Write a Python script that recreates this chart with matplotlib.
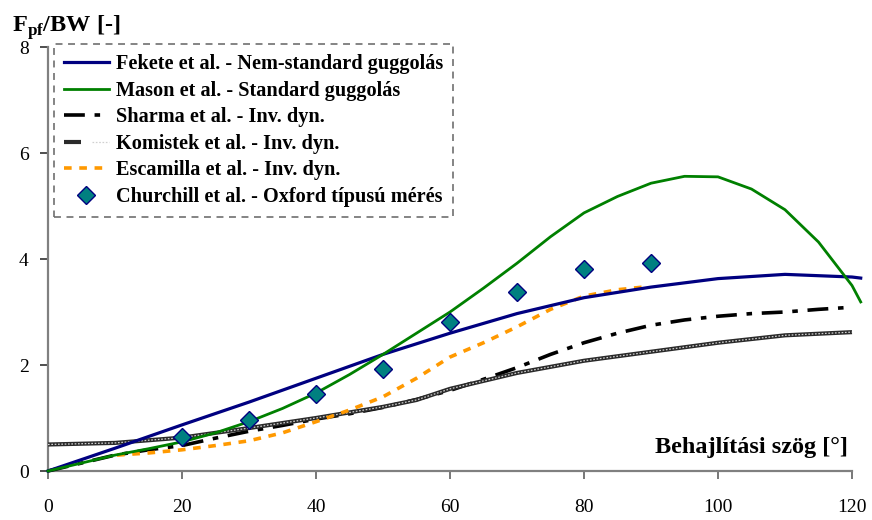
import matplotlib
matplotlib.use("Agg")
import matplotlib.pyplot as plt
from matplotlib.legend_handler import HandlerTuple

plt.rcParams['font.family'] = ['Liberation Serif', 'DejaVu Serif']
plt.rcParams['mathtext.fontset'] = 'custom'
plt.rcParams['mathtext.rm'] = 'Liberation Serif'
plt.rcParams['mathtext.bf'] = 'Liberation Serif:bold'
plt.rcParams['lines.scale_dashes'] = False

# Fekete et al. - non-standard squat
fekete_x = [0, 10, 20, 30, 40, 50, 60, 70, 80, 90, 100, 110, 120, 121.3]
fekete_y = [0, 0.43, 0.87, 1.30, 1.75, 2.20, 2.60, 2.97, 3.27, 3.47, 3.63, 3.71, 3.66, 3.64]

# Mason et al. - standard squat
mason_x = [0, 5, 10, 15, 20, 25, 30, 35, 40, 45, 50, 55, 60, 65, 70, 75, 80,
           85, 90, 95, 100, 105, 110, 115, 120, 121.3]
mason_y = [0, 0.15, 0.30, 0.42, 0.55, 0.72, 0.93, 1.18, 1.47, 1.82, 2.20, 2.60,
           3.00, 3.45, 3.92, 4.42, 4.87, 5.18, 5.43, 5.56, 5.55, 5.32, 4.93,
           4.32, 3.50, 3.19]

# Sharma et al. - inverse dynamics
sharma_x = [0, 5, 10, 15, 20, 25, 30, 35, 40, 45, 50, 55, 60, 65, 70, 75, 80,
            85, 90, 95, 100, 105, 110, 115, 120]
sharma_y = [0, 0.15, 0.30, 0.40, 0.48, 0.62, 0.75, 0.86, 0.98, 1.08, 1.20, 1.35,
            1.52, 1.73, 1.95, 2.20, 2.42, 2.60, 2.75, 2.85, 2.92, 2.97, 3.00,
            3.05, 3.09]

# Komistek et al. - inverse dynamics
komistek_x = [0, 10, 20, 30, 40, 50, 55, 60, 70, 80, 90, 100, 110, 120]
komistek_y = [0.50, 0.53, 0.63, 0.81, 1.00, 1.21, 1.34, 1.55, 1.85, 2.08, 2.25,
              2.42, 2.56, 2.62]

# Escamilla et al. - inverse dynamics
escamilla_x = [10.3, 15, 20, 25, 30, 35, 40, 45, 50, 55, 60, 65, 70, 75, 80,
               85, 88.8]
escamilla_y = [0.30, 0.34, 0.40, 0.48, 0.57, 0.72, 0.93, 1.15, 1.40, 1.75, 2.15,
               2.42, 2.72, 3.05, 3.30, 3.42, 3.47]

# Churchill et al. - Oxford-type measurement
churchill_x = [20, 30, 40, 50, 60, 70, 80, 90]
churchill_y = [0.64, 0.96, 1.45, 1.92, 2.82, 3.37, 3.82, 3.92]

labels = [
    "Fekete et al. - Nem-standard guggolás",
    "Mason et al. - Standard guggolás",
    "Sharma et al. - Inv. dyn.",
    "Komistek et al. - Inv. dyn.",
    "Escamilla et al. - Inv. dyn.",
    "Churchill et al. - Oxford típusú mérés",
]
x_ticks = [0, 20, 40, 60, 80, 100, 120]
y_ticks = [0, 2, 4, 6, 8]

fig = plt.figure(figsize=(8.72, 5.2), dpi=100)
ax = fig.add_axes([48 / 872, 49 / 520, 804 / 872, 424 / 520])

h_fekete, = ax.plot(fekete_x, fekete_y, color='#000080', lw=2.3,
                    clip_on=False, zorder=4)
h_mason, = ax.plot(mason_x, mason_y, color='#008000', lw=2.0,
                   clip_on=False, zorder=4)
h_sharma, = ax.plot(sharma_x, sharma_y, color='black', lw=2.6,
                    dashes=(15, 7, 4, 7), clip_on=False, zorder=3)
h_kom_a, = ax.plot(komistek_x, komistek_y, color='#2a2a2a', lw=3.0,
                   clip_on=False, zorder=3, solid_capstyle='butt')
h_kom_b, = ax.plot(komistek_x, komistek_y, color='#d0d0d0', lw=0.9,
                   dashes=(1.2, 1.2), clip_on=False, zorder=3)
h_esc, = ax.plot(escamilla_x, escamilla_y, color='#FF9900', lw=2.6,
                 dashes=(5.5, 5.5), clip_on=False, zorder=3)
h_ch, = ax.plot(churchill_x, churchill_y, ls='none', marker='D', ms=9,
                markerfacecolor='#008080', markeredgecolor='#000080',
                markeredgewidth=1.0, clip_on=False, zorder=5)

ax.set_xlim(0, 120)
ax.set_ylim(0, 8)
ax.set_xticks(x_ticks)
ax.set_yticks(y_ticks)
ax.set_xticklabels([str(v) for v in x_ticks])
ax.set_yticklabels([str(v) for v in y_ticks])

for side in ('top', 'right'):
    ax.spines[side].set_visible(False)
for side in ('left', 'bottom'):
    ax.spines[side].set_color('#808080')
    ax.spines[side].set_linewidth(1.6)

ax.tick_params(axis='x', direction='out', length=6, width=1.2,
               color='#606060', pad=14, labelsize=14)
ax.tick_params(axis='y', direction='out', length=6, width=1.2,
               color='#303030', pad=8, labelsize=14)

leg = ax.legend([h_fekete, h_mason, h_sharma, (h_kom_a, h_kom_b), h_esc, h_ch],
                labels, loc='upper left', bbox_to_anchor=(0.0075, 1.007),
                borderaxespad=0, frameon=True, fancybox=False,
                handlelength=2.2, handletextpad=0.35, labelspacing=0.32,
                borderpad=0.5, numpoints=1,
                prop={'family': 'Liberation Serif', 'weight': 'bold', 'size': 14.6},
                handler_map={tuple: HandlerTuple(ndivide=None)})
frame = leg.get_frame()
frame.set_edgecolor('#707070')
frame.set_linestyle((0, (5, 4)))
frame.set_linewidth(1.2)
frame.set_facecolor('white')
frame.set_alpha(1)
leg.set_zorder(6)

fig.text(12 / 872, 1 - 32 / 520, r"F$_{\mathbf{pf}}$/BW [-]", fontsize=17.5,
         fontweight='bold', ha='left', va='baseline')
fig.text(848 / 872, 1 - 453 / 520, "Behajlítási szög [°]", fontsize=17.5,
         fontweight='bold', ha='right', va='baseline')

fig.savefig("out.png", dpi=100)
